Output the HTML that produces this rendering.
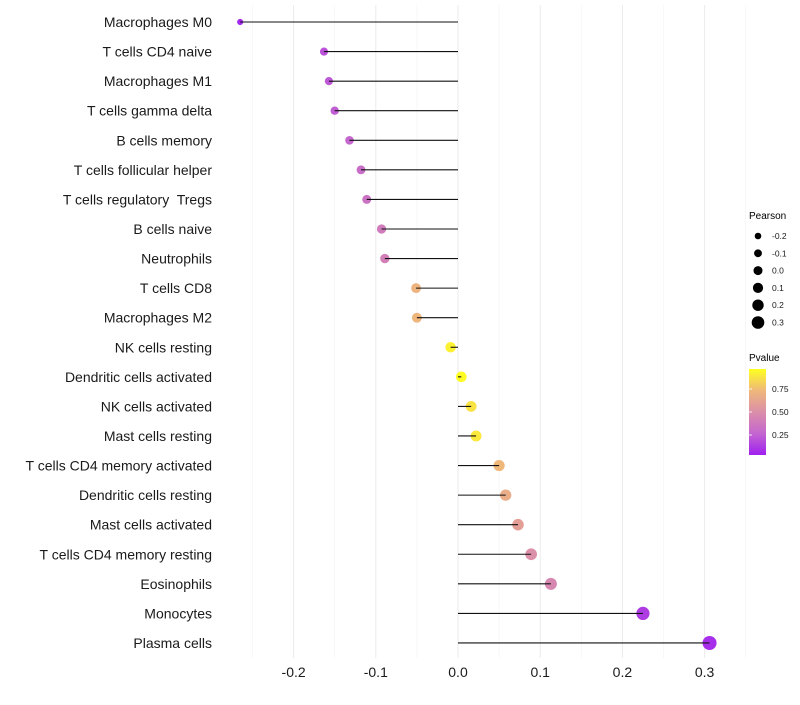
<!DOCTYPE html>
<html><head><meta charset="utf-8"><style>
body{margin:0;background:#fff;font-family:"Liberation Sans",sans-serif}
text{white-space:pre}
</style></head><body>
<svg id="chart" width="800" height="700" xmlns="http://www.w3.org/2000/svg" font-family="Liberation Sans, sans-serif">
<defs><linearGradient id="pg" x1="0" y1="1" x2="0" y2="0">
<stop offset="0" stop-color="#a020f0"/><stop offset="0.25" stop-color="#c466d0"/><stop offset="0.5" stop-color="#db8fa8"/><stop offset="0.75" stop-color="#efb87a"/><stop offset="1" stop-color="#ffff20"/></linearGradient></defs>
<g id="grid"></g><g id="marks"></g><g id="ylabels"></g><g id="xlabels"></g>
<g id="legend">
<text x="749" y="219" font-size="10">Pearson</text>
<text x="749" y="361" font-size="10">Pvalue</text>
<rect x="749" y="369" width="17" height="86" fill="url(#pg)"/>
</g>
</svg>
<script>
const categories=["Macrophages M0","T cells CD4 naive","Macrophages M1","T cells gamma delta","B cells memory","T cells follicular helper","T cells regulatory  Tregs","B cells naive","Neutrophils","T cells CD8","Macrophages M2","NK cells resting","Dendritic cells activated","NK cells activated","Mast cells resting","T cells CD4 memory activated","Dendritic cells resting","Mast cells activated","T cells CD4 memory resting","Eosinophils","Monocytes","Plasma cells"];
const pearson=[-0.265,-0.163,-0.157,-0.150,-0.132,-0.118,-0.111,-0.093,-0.089,-0.051,-0.050,-0.009,0.004,0.016,0.022,0.050,0.058,0.073,0.089,0.113,0.225,0.306];
const pvalue=[0.03,0.18,0.2,0.22,0.26,0.3,0.33,0.38,0.4,0.72,0.74,0.95,0.99,0.9,0.92,0.75,0.68,0.6,0.5,0.45,0.1,0.05];
const xTicks=[-0.2,-0.1,0,0.1,0.2,0.3];
const sizeLegend=[-0.2,-0.1,0.0,0.1,0.2,0.3];
const pTicks=[0.25,0.5,0.75];
const NS="http://www.w3.org/2000/svg";
const x=v=>458+v*822;
const y=i=>22+i*29.57;
const r=v=>Math.sqrt(Math.max(4,28+70*v));
const rl=v=>3.3+6*v+1.2;
const stops=[[0,[160,32,240]],[0.25,[196,102,208]],[0.5,[219,143,168]],[0.75,[239,184,122]],[1,[255,255,32]]];
function col(p){for(let k=1;k<stops.length;k++){if(p<=stops[k][0]){const a=stops[k-1],b=stops[k],t=(p-a[0])/(b[0]-a[0]);return "rgb("+a[1].map((c,j)=>Math.round(c+(b[1][j]-c)*t)).join(",")+")";}}return "rgb(255,255,32)";}
function mk(tag,attrs,parent){const e=document.createElementNS(NS,tag);for(const k in attrs)e.setAttribute(k,attrs[k]);document.getElementById(parent).appendChild(e);return e;}
const pv=p=>458-p*92;
for(let v=-0.25;v<=0.36;v+=0.05){const major=Math.abs(Math.round(v*100)%10)<1;
const g=mk("line",{x1:x(v),x2:x(v),y1:5,y2:658,stroke:major?"#ebebeb":"#f4f4f4","stroke-width":major?1:0.6},"grid");

}
categories.forEach((c,i)=>{
const d=mk("circle",{cx:x(pearson[i]),cy:y(i),r:r(pearson[i]),fill:col(pvalue[i])},"marks");


const l=mk("line",{x1:x(0),x2:x(pearson[i]),y1:y(i),y2:y(i),stroke:"#111","stroke-width":1.1},"marks");


const t=mk("text",{x:212,y:y(i)+5,"text-anchor":"end","font-size":14,fill:"#1a1a1a"},"ylabels");t.textContent=c;


});
xTicks.forEach(v=>{const t=mk("text",{x:x(v),y:677,"text-anchor":"middle","font-size":14,fill:"#1a1a1a"},"xlabels");t.textContent=v===0?"0.0":v.toString();

});
sizeLegend.forEach((v,i)=>{const cy=236+i*17.3;
const c=mk("circle",{cx:758,cy:cy,r:rl(v),fill:"#000"},"legend");


const t=mk("text",{x:772,y:cy+3,"font-size":8.5,fill:"#1a1a1a"},"legend");t.textContent=v.toFixed(1);

});
pTicks.forEach(p=>{const t=mk("text",{x:772,y:pv(p)+3,"font-size":8.5,fill:"#1a1a1a"},"legend");t.textContent=p.toFixed(2);


const tk=mk("line",{x1:749,x2:752,y1:pv(p),y2:pv(p),stroke:"#fff","stroke-width":0.8},"legend");

});
</script>
</body></html>
